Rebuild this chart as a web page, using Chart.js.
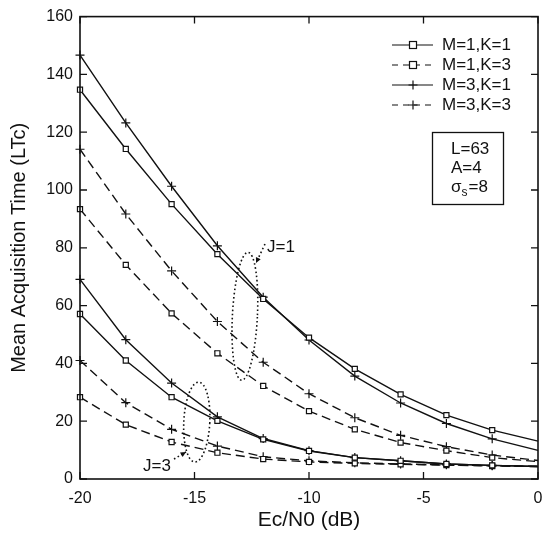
<!DOCTYPE html>
<html>
<head>
<meta charset="utf-8">
<script src="https://cdn.jsdelivr.net/npm/chart.js@4.4.1/dist/chart.umd.min.js"></script>
<style>
  html, body { margin: 0; padding: 0; background: #fff; }
</style>
</head>
<body>
<canvas id="myChart" width="544" height="534"></canvas>
<script>
// data
const ecNo = [-20, -18, -16, -14, -12, -10, -8, -6, -4, -2, 0];
const xTicks = [-20, -15, -10, -5, 0];
const yTicks = [0, 20, 40, 60, 80, 100, 120, 140, 160];
const seriesNames = ['M=1,K=1', 'M=1,K=3', 'M=3,K=1', 'M=3,K=3'];

// J=1
const j1M1K1 = [134.7, 114.2, 95.1, 77.8, 62.3, 48.9, 38.1, 29.3, 22.1, 16.9, 13.1];
const j1M1K3 = [93.4, 74.1, 57.3, 43.5, 32.2, 23.5, 17.2, 12.6, 9.8, 7.4, 6];
const j1M3K1 = [146.7, 123.2, 101.3, 80.7, 62.9, 48.1, 35.6, 26.3, 19.2, 13.9, 9.9];
const j1M3K3 = [114.1, 91.7, 72, 54.5, 40.4, 29.5, 21.2, 15.1, 11.2, 8.3, 6.4];
// J=3
const j3M1K1 = [57.1, 41, 28.3, 20.1, 13.7, 9.7, 7.4, 6.3, 5.2, 4.7, 4.3];
const j3M1K3 = [28.3, 18.8, 12.8, 9.1, 6.9, 5.9, 5.4, 5.1, 4.8, 4.5, 4.3];
const j3M3K1 = [69.1, 48.2, 33.2, 21.5, 14, 9.8, 7.4, 6.3, 5.2, 4.7, 4.3];
const j3M3K3 = [41, 26.4, 17.2, 11.4, 7.7, 6.3, 5.6, 5.2, 4.9, 4.6, 4.4];

const infoLines = ['L=63', 'A=4', 'σs=8'];
const groupLabels = ['J=1', 'J=3'];

const FONT = "'Liberation Sans', Arial, sans-serif";
const INK = '#111';
const DASH = [9, 5];

// style per series (same order as seriesNames)
const styles = [
  { point: 'rect', dash: [] },
  { point: 'rect', dash: DASH },
  { point: 'cross', dash: [] },
  { point: 'cross', dash: DASH }
];

function makeSet(name, values, idx) {
  const s = styles[idx];
  return {
    label: name,
    data: ecNo.map((x, i) => ({ x: x, y: values[i] })),
    borderColor: INK,
    backgroundColor: '#fff',
    borderWidth: 1.4,
    borderDash: s.dash,
    pointStyle: s.point,
    pointRadius: c => (c.raw && c.raw.x === 0) ? 0 : (s.point === 'rect' ? 3.6 : 4.5),
    pointBorderWidth: 1.2,
    pointBorderColor: INK,
    pointBackgroundColor: '#fff',
    tension: 0,
    clip: false
  };
}

const datasets = [
  makeSet(seriesNames[0], j1M1K1, 0),
  makeSet(seriesNames[1], j1M1K3, 1),
  makeSet(seriesNames[2], j1M3K1, 2),
  makeSet(seriesNames[3], j1M3K3, 3),
  makeSet(seriesNames[0], j3M1K1, 0),
  makeSet(seriesNames[1], j3M1K3, 1),
  makeSet(seriesNames[2], j3M3K1, 2),
  makeSet(seriesNames[3], j3M3K3, 3)
];

function drawMarker(ctx, style, x, y) {
  ctx.save();
  ctx.setLineDash([]);
  ctx.lineWidth = 1.2;
  ctx.strokeStyle = INK;
  if (style === 'rect') {
    ctx.fillStyle = '#fff';
    ctx.fillRect(x - 3.5, y - 3.5, 7, 7);
    ctx.strokeRect(x - 3.5, y - 3.5, 7, 7);
  } else {
    ctx.beginPath();
    ctx.moveTo(x - 4.5, y); ctx.lineTo(x + 4.5, y);
    ctx.moveTo(x, y - 4.5); ctx.lineTo(x, y + 4.5);
    ctx.stroke();
  }
  ctx.restore();
}

const decorations = {
  id: 'decorations',
  afterDatasetsDraw(chart) {
    const { ctx, chartArea: a, scales: { x, y } } = chart;
    ctx.save();
    // frame
    ctx.strokeStyle = INK;
    ctx.lineWidth = 1.6;
    ctx.setLineDash([]);
    ctx.strokeRect(a.left, a.top, a.right - a.left, a.bottom - a.top);
    // inward ticks on all sides
    ctx.lineWidth = 1.3;
    ctx.beginPath();
    xTicks.forEach(v => {
      const px = x.getPixelForValue(v);
      ctx.moveTo(px, a.bottom); ctx.lineTo(px, a.bottom - 7);
      ctx.moveTo(px, a.top); ctx.lineTo(px, a.top + 7);
    });
    yTicks.forEach(v => {
      const py = y.getPixelForValue(v);
      ctx.moveTo(a.left, py); ctx.lineTo(a.left + 7, py);
      ctx.moveTo(a.right, py); ctx.lineTo(a.right - 7, py);
    });
    ctx.stroke();

    // legend
    ctx.font = '17px ' + FONT;
    ctx.fillStyle = INK;
    ctx.textBaseline = 'middle';
    seriesNames.forEach((name, i) => {
      const ly = 45 + i * 20;
      ctx.save();
      ctx.lineWidth = 1.2;
      ctx.setLineDash(styles[i].dash.length ? [6, 5] : []);
      ctx.beginPath();
      ctx.moveTo(392, ly); ctx.lineTo(433, ly);
      ctx.stroke();
      ctx.restore();
      drawMarker(ctx, styles[i].point, 413, ly);
      ctx.fillText(name, 442, ly);
    });

    // parameter box
    ctx.lineWidth = 1.3;
    ctx.strokeRect(432.5, 132.5, 71, 72);
    ctx.font = '17px ' + FONT;
    ctx.fillText(infoLines[0], 451, 149);
    ctx.fillText(infoLines[1], 451, 168);
    // sigma with subscript s
    const sig = infoLines[2];
    ctx.fillText(sig[0], 451, 187);
    const w0 = ctx.measureText(sig[0]).width;
    ctx.font = '12px ' + FONT;
    ctx.fillText(sig[1], 451 + w0, 193);
    const w1 = ctx.measureText(sig[1]).width;
    ctx.font = '17px ' + FONT;
    ctx.fillText(sig.slice(2), 451 + w0 + w1 + 1, 187);

    // dotted ellipses around the two groups
    ctx.setLineDash([1.6, 2.6]);
    ctx.lineWidth = 1.6;
    ctx.beginPath();
    ctx.ellipse(x.getPixelForValue(-12.8), y.getPixelForValue(56.3), 12.5, 64, 0.05, 0, Math.PI * 2);
    ctx.stroke();
    ctx.beginPath();
    ctx.ellipse(x.getPixelForValue(-14.9), y.getPixelForValue(19.7), 13, 40, 0.05, 0, Math.PI * 2);
    ctx.stroke();

    // arrows to the labels
    function arrow(x1, y1, x2, y2) {
      ctx.setLineDash([1.6, 2.6]);
      ctx.beginPath();
      ctx.moveTo(x1, y1); ctx.lineTo(x2, y2);
      ctx.stroke();
      const ang = Math.atan2(y2 - y1, x2 - x1);
      ctx.setLineDash([]);
      ctx.beginPath();
      ctx.moveTo(x2, y2);
      ctx.lineTo(x2 - 6 * Math.cos(ang - 0.45), y2 - 6 * Math.sin(ang - 0.45));
      ctx.lineTo(x2 - 6 * Math.cos(ang + 0.45), y2 - 6 * Math.sin(ang + 0.45));
      ctx.closePath();
      ctx.fill();
    }
    arrow(265, 244, 256, 263);
    arrow(174, 459, 186, 452);

    ctx.font = '17px ' + FONT;
    ctx.textBaseline = 'middle';
    ctx.fillText(groupLabels[0], 267, 247);
    ctx.fillText(groupLabels[1], 143, 466);
    ctx.restore();
  }
};

new Chart(document.getElementById('myChart'), {
  type: 'line',
  data: { datasets: datasets },
  options: {
    responsive: false,
    animation: false,
    layout: { padding: { top: 15, right: 0, left: 0, bottom: 0 } },
    plugins: {
      legend: { display: false },
      tooltip: { enabled: false }
    },
    scales: {
      x: {
        type: 'linear',
        min: -20,
        max: 0,
        afterFit: s => { s.height = 55; s.paddingLeft = 0; s.paddingRight = 6; },
        afterBuildTicks: s => { s.ticks = xTicks.map(v => ({ value: v })); },
        grid: { display: false, drawTicks: false },
        border: { display: false },
        ticks: { color: INK, padding: 10, font: { family: FONT, size: 16 }, maxRotation: 0 },
        title: { display: true, text: 'Ec/N0 (dB)', color: INK, padding: { top: 0, bottom: 1 }, font: { family: FONT, size: 21 } }
      },
      y: {
        type: 'linear',
        min: 0,
        max: 160,
        afterFit: s => { s.width = 80; },
        afterBuildTicks: s => { s.ticks = yTicks.map(v => ({ value: v })); },
        grid: { display: false, drawTicks: false },
        border: { display: false },
        ticks: { color: INK, padding: 7, font: { family: FONT, size: 16 } },
        title: { display: true, text: 'Mean Acquisition Time (LTc)', color: INK, padding: { top: 7, bottom: 0 }, font: { family: FONT, size: 20 } }
      }
    }
  },
  plugins: [decorations]
});
</script>
</body>
</html>
